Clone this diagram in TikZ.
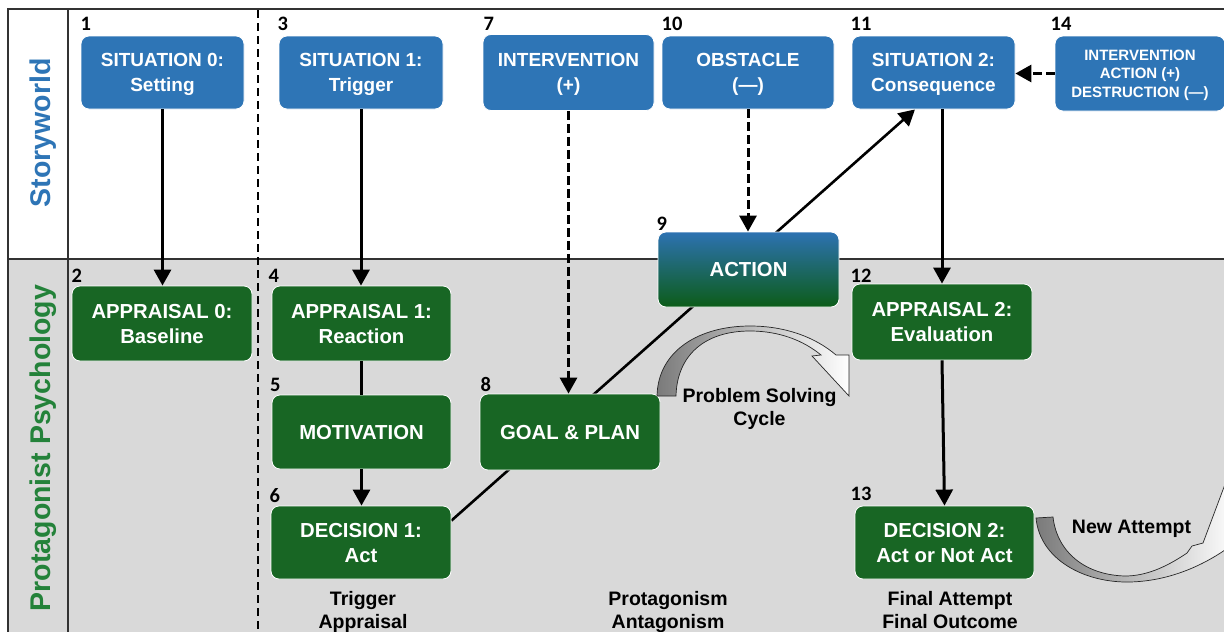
\documentclass[tikz,border=0pt]{standalone}
\usepackage{fontspec}
\setmainfont{Liberation Sans}
\newfontfamily\numfont{Carlito}
\usetikzlibrary{arrows.meta,calc}
\definecolor{boxblue}{RGB}{46,117,182}
\definecolor{boxgreen}{RGB}{24,102,36}
\definecolor{labgreen}{RGB}{36,130,58}
\definecolor{bggray}{RGB}{217,217,217}
\definecolor{framec}{RGB}{50,50,50}
\definecolor{acttop}{RGB}{45,114,178}
\definecolor{actbot}{RGB}{12,92,24}
\pgfdeclarelayer{bg}
\pgfsetlayers{bg,main}
\tikzset{
  basebox/.style={rectangle, rounded corners=8pt, inner sep=0pt, align=center, text=white, draw=white, line width=0.8pt, text depth=0pt},
  bluebox/.style={basebox, fill=boxblue, minimum width=163pt, minimum height=73pt, font=\bfseries\fontsize{19}{24.5}\selectfont},
  greenbox/.style={basebox, fill=boxgreen, minimum width=180pt, minimum height=75pt, font=\bfseries\fontsize{20.3}{25}\selectfont},
  numlabel/.style={anchor=base west, inner sep=0pt, font=\numfont\bfseries\fontsize{20.5}{24}\selectfont},
  captiontext/.style={align=center, inner sep=0pt, text depth=0pt, font=\bfseries\fontsize{19.5}{23}\selectfont},
  sidelabel/.style={anchor=base, rotate=90, inner sep=0pt, font=\bfseries\fontsize{28.5}{30}\selectfont},
  solidarrow/.style={line width=3pt, -{Triangle[width=17pt,length=16pt]}},
  dasharrow/.style={line width=3pt, dash pattern=on 9pt off 4pt, -{Triangle[width=17pt,length=16pt]}},
  framelines/.style={framec, line width=1.8pt},
  blockarrow/.style={draw=black!85, line width=0.7pt},
}
\begin{document}
\begin{tikzpicture}[x=1pt,y=1pt]
\useasboundingbox (0,0) rectangle (1224,-632);
% background and frame
\begin{pgfonlayer}{bg}
  \fill[bggray] (8,-259) rectangle (1226,-634);
  \draw[framelines] (1226,-9) -- (8,-9) -- (8,-634);
  \draw[framelines] (68,-9) -- (68,-634);
  \draw[framelines] (8,-259) -- (1226,-259);
  \draw[black, line width=1.6pt, dash pattern=on 8pt off 5pt] (258,-10) -- (258,-634);
\end{pgfonlayer}

% side labels
\node[sidelabel, text=boxblue] (lstory) at (50,-133) {Storyworld};
\node[sidelabel, text=labgreen] (lpsych) at (50,-448) {Protagonist Psychology};

% storyworld boxes
\node[bluebox] (s0) at (162.5,-72.5) {SITUATION 0:\\Setting};
\node[bluebox, minimum width=164pt] (s1) at (361,-72.5) {SITUATION 1:\\Trigger};
\node[bluebox, minimum width=171pt, minimum height=76pt] (iv) at (568.5,-72.5) {INTERVENTION\\(+)};
\node[bluebox, minimum width=172pt] (ob) at (748,-72.5) {OBSTACLE\\(—)};
\node[bluebox] (s2) at (933.5,-72.5) {SITUATION 2:\\Consequence};
\node[bluebox, minimum width=170pt, minimum height=75pt, font=\bfseries\fontsize{15}{18.3}\selectfont] (i14) at (1140,-73.5) {INTERVENTION\\ACTION (+)\\DESTRUCTION (—)};

% psychology boxes
\node[greenbox] (a0) at (162,-323.5) {APPRAISAL 0:\\Baseline};
\node[greenbox, minimum width=179pt] (a1) at (361.5,-323.5) {APPRAISAL 1:\\Reaction};
\node[greenbox, minimum width=179pt, minimum height=74pt] (mo) at (361.5,-432) {MOTIVATION};
\node[greenbox, minimum height=73pt] (d1) at (361,-542.5) {DECISION 1:\\Act};
\node[greenbox, minimum height=76pt] (gp) at (570,-432) {GOAL \& PLAN};
\node[basebox, minimum width=181pt, minimum height=75pt, top color=acttop, bottom color=actbot, font=\bfseries\fontsize{20.3}{25}\selectfont] (ac) at (748.5,-269.5) {ACTION};
\node[greenbox, minimum height=76pt] (a2) at (942,-322) {APPRAISAL 2:\\Evaluation};
\node[greenbox, minimum width=179pt, minimum height=73pt] (d2) at (944.5,-542.5) {DECISION 2:\\Act or Not Act};

% number labels
\node[numlabel] (n1) at (80.5,-30) {1};
\node[numlabel] (n3) at (277.5,-30) {3};
\node[numlabel] (n7) at (483.5,-30) {7};
\node[numlabel] (n10) at (661.5,-30) {10};
\node[numlabel] (n11) at (850.5,-30) {11};
\node[numlabel] (n14) at (1050.5,-30) {14};
\node[numlabel] (n2) at (71.5,-282) {2};
\node[numlabel] (n4) at (268.5,-282) {4};
\node[numlabel] (n5) at (270,-391) {5};
\node[numlabel] (n6) at (269.5,-502) {6};
\node[numlabel] (n8) at (480.5,-391) {8};
\node[numlabel] (n9) at (656.5,-230) {9};
\node[numlabel] (n12) at (850.5,-282) {12};
\node[numlabel] (n13) at (850.5,-500) {13};

% connectors
\draw[solidarrow] (s0.south) -- (s0.south |- a0.north);
\draw[solidarrow] (s1.south) -- (s1.south |- a1.north);
\draw[line width=3pt] (a1.south) -- (a1.south |- mo.north);
\draw[solidarrow] (mo.south) -- (mo.south |- d1.north);
\draw[dasharrow] (iv.south) -- (iv.south |- gp.north);
\draw[dasharrow] (ob.south) -- (ob.south |- ac.north);
\draw[solidarrow] (a2.north |- s2.south) -- (a2.north);
\draw[solidarrow] (a2.south) -- (d2.north);
\draw[dasharrow] (i14.west) -- (i14.west -| s2.east);
\begin{pgfonlayer}{bg}
  \draw[line width=2.6pt, -{Triangle[width=17pt,length=16pt]}] ([yshift=-15pt]d1.north east) -- ([xshift=-18.5pt]s2.south);
\end{pgfonlayer}

% problem solving cycle arrow
\path[blockarrow, left color=black!52, middle color=black!22, right color=white]
  (657,-396) .. controls (658,-350) and (700,-326) .. (750,-326)
  .. controls (785,-326) and (815,-337) .. (836,-355)
  -- (849,-355) -- (849,-396) -- (812,-356) -- (821,-355)
  .. controls (804,-341) and (780,-331) .. (750,-331)
  .. controls (705,-331) and (677,-355) .. (676,-396) -- cycle;
\node[captiontext] (tps) at (759.5,-406.5) {Problem Solving\\Cycle};

% new attempt arrow
\path[blockarrow, left color=black!52, middle color=black!35, right color=white]
  (1036,-518) .. controls (1040,-560) and (1085,-583) .. (1130,-582)
  .. controls (1170,-581) and (1205,-565) .. (1232,-545)
  -- (1236,-455) -- (1203,-543) -- (1192,-546) -- (1187,-553)
  .. controls (1165,-568) and (1145,-576) .. (1125,-576)
  .. controls (1085,-575) and (1057,-552) .. (1053,-517) -- cycle;
\node[captiontext, anchor=base] (tna) at (1131.5,-533) {New Attempt};

% bottom captions
\node[captiontext] (c1) at (363,-609.5) {Trigger\\Appraisal};
\node[captiontext] (c2) at (668,-609.5) {Protagonism\\Antagonism};
\node[captiontext] (c3) at (950,-609.5) {Final Attempt\\Final Outcome};
\end{tikzpicture}
\end{document}
